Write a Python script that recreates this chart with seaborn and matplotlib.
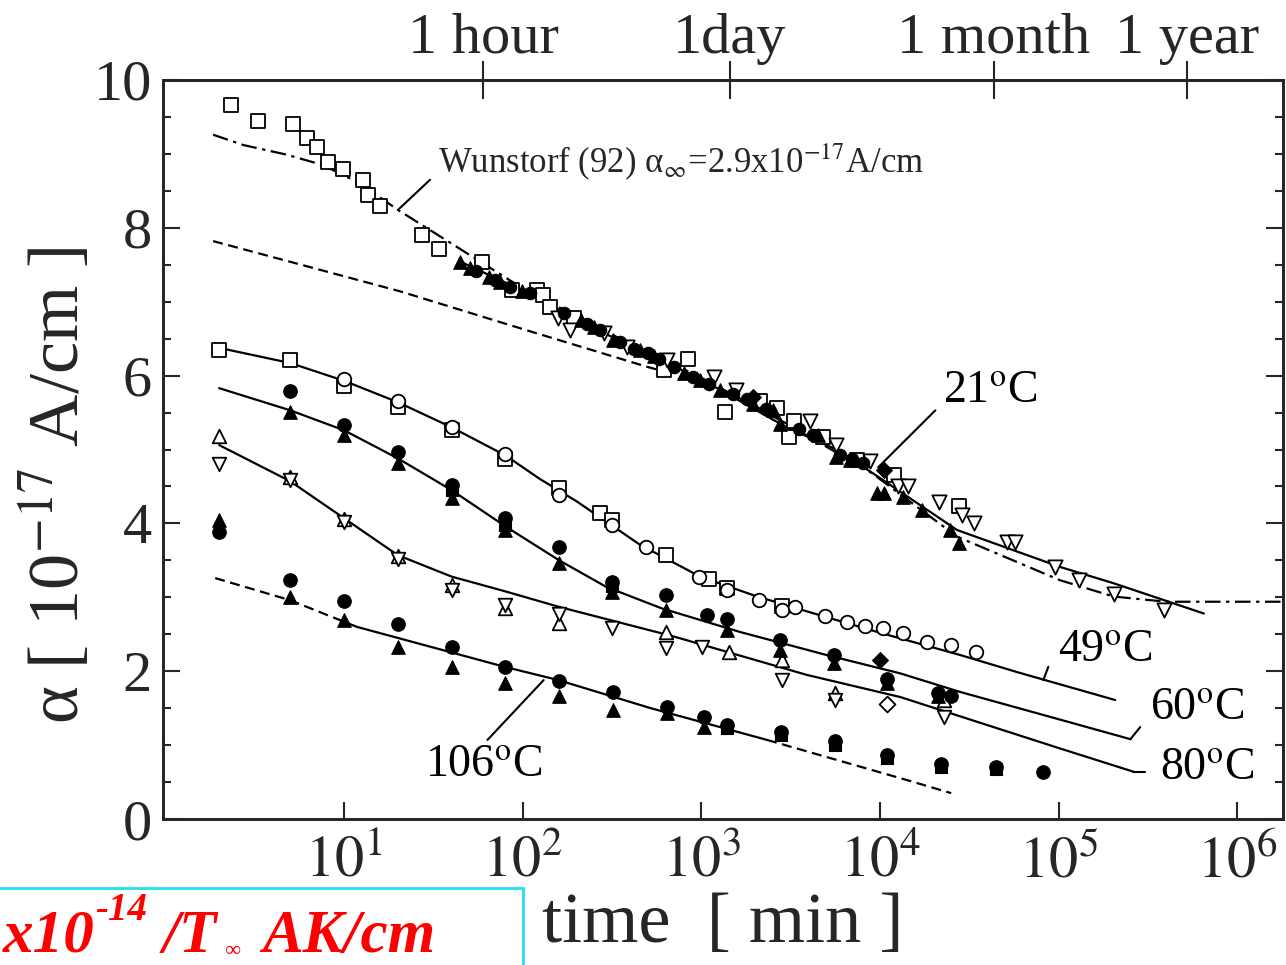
import numpy as np
import pandas as pd
import matplotlib
matplotlib.use("Agg")
import matplotlib.pyplot as plt
from matplotlib.ticker import LogLocator, NullLocator, FixedLocator, MultipleLocator
from matplotlib.patches import Rectangle
import seaborn as sns

# ---------------- data ----------------
# 21 C
t21_sq = [2.33, 3.31, 5.2, 6.18, 7.08, 8.17, 9.9, 12.8, 13.7, 15.8, 27.3, 34.2, 59, 87, 120, 130, 142, 193,
          615, 843, 1350, 2120, 2650, 3080, 3290, 4820, 7400, 11900, 27600]
a21_sq = [9.66, 9.45, 9.41, 9.22, 9.10, 8.89, 8.79, 8.65, 8.44, 8.30, 7.90, 7.71, 7.54, 7.16, 7.16, 7.09, 6.93, 6.78,
          6.08, 6.23, 5.51, 5.65, 5.56, 5.17, 5.38, 5.17, 4.86, 4.65, 4.23]
t21_tri = [44.6, 50.7, 64.4, 74.6, 98.5, 213, 250, 322, 453, 540, 795, 982, 1270, 1950, 2530, 2770, 4520, 5700,
           6800, 9600, 10500, 13500, 17100, 24500, 27600]
a21_tri = [7.54, 7.45, 7.34, 7.27, 7.14, 6.75, 6.66, 6.48, 6.35, 6.26, 6.03, 5.94, 5.80, 5.62, 5.53, 5.35, 5.20, 4.90,
           4.86, 4.41, 4.41, 4.36, 4.18, 3.91, 3.73]
t21_ci = [55, 70, 85, 110, 170, 230, 270, 350, 420, 500, 580, 700, 900, 1100, 1500, 1800, 2300, 3500, 4200,
          6000, 7000, 8000]
a21_ci = [7.42, 7.30, 7.20, 7.12, 6.85, 6.70, 6.62, 6.45, 6.36, 6.30, 6.22, 6.12, 5.98, 5.88, 5.75, 5.68, 5.55,
          5.28, 5.20, 4.92, 4.87, 4.82]
t21_dtri = [158, 184, 284, 383, 640, 1170, 1570, 4040, 5700, 8800, 12600, 14400, 21400, 28700, 33400, 51500, 57000,
            95000, 130000, 203000, 390000]
a21_dtri = [6.78, 6.62, 6.57, 6.39, 6.21, 5.98, 5.80, 5.38, 5.06, 4.84, 4.50, 4.50, 4.29, 4.11, 4.00, 3.75, 3.75,
            3.41, 3.23, 3.05, 2.83]
t21_dia = [1950, 10500]
a21_dia = [5.71, 4.72]

# 49 C
t49_sq = [2, 5, 10, 20, 40, 80, 160, 271, 315, 636, 1110, 1390, 2820]
a49_sq = [6.35, 6.21, 5.86, 5.58, 5.26, 4.87, 4.48, 4.14, 4.05, 3.57, 3.25, 3.13, 2.88]
t49_ci = [10, 20, 40, 80, 160, 315, 490, 964, 1390, 2090, 2820, 3340, 4900, 6540, 8200, 10400, 13400, 18300,
          24900, 34600]
a49_ci = [5.95, 5.66, 5.31, 4.94, 4.38, 3.98, 3.68, 3.27, 3.10, 2.96, 2.83, 2.87, 2.75, 2.67, 2.61, 2.58, 2.52, 2.40,
          2.35, 2.26]

# 60 C
t60_ci = [5, 10, 20, 40, 80, 160, 315, 630, 1070, 1390, 2740, 5520, 11000, 21000, 25000]
a60_ci = [5.79, 5.33, 4.96, 4.52, 4.07, 3.68, 3.21, 3.03, 2.76, 2.71, 2.42, 2.22, 1.90, 1.70, 1.66]
t60_tri = [5, 10, 20, 40, 80, 160, 315, 630, 1390, 2740, 5520, 11000, 21000]
a60_tri = [5.51, 5.20, 4.82, 4.34, 3.91, 3.46, 3.07, 2.83, 2.56, 2.29, 2.11, 1.84, 1.66]
t60_sq = [40, 80, 315]
a60_sq = [4.45, 3.98, 3.15]
t60_dia = [10000]
a60_dia = [2.15]

# 80 C
t80_tri = [2, 5, 10, 20, 40, 80, 160, 630, 1420, 2820, 5600, 22800]
a80_tri = [5.18, 4.63, 4.06, 3.56, 3.16, 2.86, 2.65, 2.53, 2.26, 2.15, 1.70, 1.61]
t80_dtri = [2, 5, 10, 20, 40, 80, 160, 315, 630, 1010, 2820, 5600, 22800]
a80_dtri = [4.81, 4.59, 4.02, 3.52, 3.10, 2.90, 2.78, 2.58, 2.31, 2.33, 1.88, 1.61, 1.38]
t80_dia = [11000]
a80_dia = [1.56]

# 106 C
t106_ci = [2, 5, 10, 20, 40, 80, 160, 320, 640, 1030, 1400, 2800, 5600, 11000, 22000, 44700, 82000]
a106_ci = [3.89, 3.24, 2.95, 2.64, 2.33, 2.06, 1.87, 1.72, 1.52, 1.38, 1.27, 1.18, 1.05, 0.87, 0.75, 0.71, 0.64]
t106_tri = [2, 5, 10, 20, 40, 80, 160, 320, 640, 1030]
a106_tri = [4.05, 3.01, 2.69, 2.33, 2.06, 1.84, 1.66, 1.47, 1.43, 1.25]
t106_sq = [1400, 2800, 5600, 11000, 22000, 44700]
a106_sq = [1.23, 1.13, 1.00, 0.82, 0.71, 0.67]

# fitted / model curves (vertices)
t_wun = [1.85, 2.73, 4.77, 7.6, 12.3, 20.1, 41, 100, 300, 1000, 3000, 9000, 27000, 102000, 203000, 400000, 1.8e6]
a_wun = [9.26, 9.12, 8.99, 8.85, 8.60, 8.24, 7.77, 7.18, 6.58, 5.97, 5.35, 4.68, 3.82, 3.23, 3.01, 2.94, 2.94]
t_mid = [1.85, 5, 20.6, 100, 495, 700]
a_mid = [7.82, 7.54, 7.14, 6.63, 6.12, 6.02]
t_f21 = [44, 100, 300, 1000, 3000, 5700, 9100, 27000, 102000, 203000, 650000]
a_f21 = [7.55, 7.15, 6.55, 5.95, 5.30, 5.00, 4.68, 3.91, 3.41, 3.19, 2.78]
t_f49 = [2.05, 5, 10, 20, 40, 80, 125, 200, 454, 984, 2000, 3890, 10000, 28000, 60000, 207000]
a_f49 = [6.37, 6.17, 5.93, 5.64, 5.30, 4.92, 4.60, 4.30, 3.71, 3.28, 3.02, 2.81, 2.52, 2.22, 1.98, 1.61]
t_f60 = [2, 5, 10, 20, 40, 80, 160, 294, 600, 1650, 5000, 13000, 28000, 100000, 252000]
a_f60 = [5.83, 5.53, 5.26, 4.88, 4.45, 3.96, 3.50, 3.14, 2.85, 2.53, 2.22, 1.97, 1.72, 1.35, 1.08]
t_f80 = [2, 5, 10, 20, 40, 80, 160, 700, 3890, 13000, 28000, 100000, 262000]
a_f80 = [5.06, 4.57, 4.07, 3.57, 3.28, 3.08, 2.87, 2.47, 1.95, 1.65, 1.39, 0.96, 0.64]
t_f106a = [1.9, 5, 11.8]
a_f106a = [3.26, 2.96, 2.60]
t_f106 = [11.8, 79, 158, 520, 2330]
a_f106 = [2.60, 2.06, 1.88, 1.50, 1.07]
t_f106b = [2330, 14000, 25000]
a_f106b = [1.07, 0.53, 0.35]

yticks = [0, 2, 4, 6, 8, 10]
xticks = [10, 100, 1000, 10000, 100000, 1000000]
xticklabels = ["$10^{1}$", "$10^{2}$", "$10^{3}$", "$10^{4}$", "$10^{5}$", "$10^{6}$"]
top_ticks = [60, 1440, 43200, 525600]
top_labels = ["1 hour", "1day", "1 month", "1 year"]

# ---------------- style ----------------
sns.set_style("ticks")
plt.rcParams["font.family"] = ["Liberation Serif", "DejaVu Serif"]
plt.rcParams["mathtext.fontset"] = "stix"
plt.rcParams["axes.linewidth"] = 2.0

fig = plt.figure(figsize=(12.86, 9.65), dpi=100)
ax = fig.add_axes([163 / 1286, 1 - 819 / 965, 1120 / 1286, 739 / 965])

lw = 1.6
line_specs = [
    (t_wun, a_wun, (0, (7, 2.5, 1.5, 2.5))),
    (t_mid, a_mid, (0, (4.5, 2.5))),
    (t_f21, a_f21, "-"),
    (t_f49, a_f49, "-"),
    (t_f60, a_f60, "-"),
    (t_f80, a_f80, "-"),
    (t_f106a, a_f106a, (0, (4.5, 2.5))),
    (t_f106, a_f106, "-"),
    (t_f106b, a_f106b, (0, (4.5, 2.5))),
]
for tt, aa, ls in line_specs:
    sns.lineplot(x=tt, y=aa, sort=False, estimator=None, color="black", linewidth=lw,
                 linestyle=ls, ax=ax, zorder=2)

open_kw = dict(color="black", facecolor="white", edgecolor="black", linewidth=1.3, zorder=3)
fill_kw = dict(color="black", edgecolor="black", linewidth=0.8, zorder=4)
msz = 95
scat = [
    (t21_sq, a21_sq, "s", open_kw, msz),
    (t21_dtri, a21_dtri, "v", open_kw, msz + 10),
    (t21_ci, a21_ci, "o", fill_kw, msz - 15),
    (t21_tri, a21_tri, "^", fill_kw, msz),
    (t21_dia, a21_dia, "D", fill_kw, msz - 30),
    (t49_sq, a49_sq, "s", open_kw, msz),
    (t49_ci, a49_ci, "o", open_kw, msz),
    (t60_ci, a60_ci, "o", fill_kw, msz),
    (t60_tri, a60_tri, "^", fill_kw, msz),
    (t60_sq, a60_sq, "s", fill_kw, msz - 10),
    (t60_dia, a60_dia, "D", fill_kw, msz - 30),
    (t80_tri, a80_tri, "^", open_kw, msz),
    (t80_dtri, a80_dtri, "v", open_kw, msz),
    (t80_dia, a80_dia, "D", open_kw, msz - 30),
    (t106_sq, a106_sq, "s", fill_kw, msz - 15),
    (t106_ci, a106_ci, "o", fill_kw, msz),
    (t106_tri, a106_tri, "^", fill_kw, msz),
]
for tt, aa, mk, kw, s in scat:
    sns.scatterplot(x=tt, y=aa, marker=mk, s=s, ax=ax, legend=False, **kw)

ax.set_xscale("log")
ax.set_xlim(0.97, 1.8e6)
ax.set_ylim(0, 10)
ax.set_xticks(xticks)
ax.set_xticklabels(xticklabels)
ax.xaxis.set_minor_locator(LogLocator(base=10, subs=np.arange(2, 10)))
ax.set_yticks(yticks)
ax.yaxis.set_minor_locator(MultipleLocator(0.5))
ax.tick_params(which="both", direction="in", top=True, right=True, width=1.5)
ax.tick_params(which="major", length=12, labelsize=42, pad=8)
ax.tick_params(which="minor", length=6)
ax.tick_params(axis="x", which="major", pad=12)
ax.set_xlabel("time  [ min ]", fontsize=52, labelpad=2)
ax.set_ylabel("\u03b1 [ 10$^{-17}$ A/cm ]", fontsize=52)
ax.yaxis.set_label_coords(-0.062, 0.452)

ax2 = ax.twiny()
ax2.set_xscale("log")
ax2.set_xlim(ax.get_xlim())
ax2.xaxis.set_major_locator(FixedLocator(top_ticks))
ax2.set_xticklabels(top_labels)
ax2.xaxis.set_minor_locator(NullLocator())
ax2.tick_params(axis="x", direction="inout", length=28, width=1.5, labelsize=42, pad=-3)

# annotations
txt_kw = dict(fontsize=33, color="black", va="center", ha="left")
ax.plot([20.0, 30.3], [8.24, 8.65], color="black", lw=1.5)
ax.text(33.5, 8.9, "Wunstorf (92) \u03b1$_{\\infty}$=2.9x10$^{-17}$A/cm", fontsize=25, va="center", ha="left")
ax.plot([9770, 20400], [4.76, 5.53], color="black", lw=1.5)
ax.text(22600, 5.8, r"21$^{\rm o}$C", **txt_kw)
ax.plot([82000, 87500], [1.88, 2.06], color="black", lw=1.5)
ax.text(99500, 2.29, r"49$^{\rm o}$C", **txt_kw)
ax.plot([2.52e5, 2.86e5], [1.08, 1.245], color="black", lw=1.5)
ax.text(3.26e5, 1.50, r"60$^{\rm o}$C", **txt_kw)
ax.plot([2.62e5, 3.05e5], [0.636, 0.636], color="black", lw=1.5)
ax.text(3.71e5, 0.70, r"80$^{\rm o}$C", **txt_kw)
ax.plot([63.5, 131], [1.07, 1.88], color="black", lw=1.5)
ax.text(28.4, 0.73, r"106$^{\rm o}$C", **txt_kw)

# partial red caption box at the bottom left
fig.patches.append(Rectangle((-0.01, -0.05), 523 / 1286 + 0.01, 0.05 + 77 / 965, transform=fig.transFigure,
                             fill=False, edgecolor="#20E0EE", linewidth=2))
red_kw = dict(color="red", fontweight="bold", fontstyle="italic", transform=fig.transFigure, va="baseline")
fig.text(3 / 1286, 1 - 952 / 965, "x10", fontsize=44, **red_kw)
fig.text(95 / 1286, 1 - 920 / 965, "-14", fontsize=28, **red_kw)
fig.text(163 / 1286, 1 - 952 / 965, "/T", fontsize=44, **red_kw)
fig.text(225 / 1286, 1 - 956 / 965, "\u221e", fontsize=16, **red_kw)
fig.text(262 / 1286, 1 - 952 / 965, "AK/cm", fontsize=44, **red_kw)

fig.savefig("out.png", dpi=100)
